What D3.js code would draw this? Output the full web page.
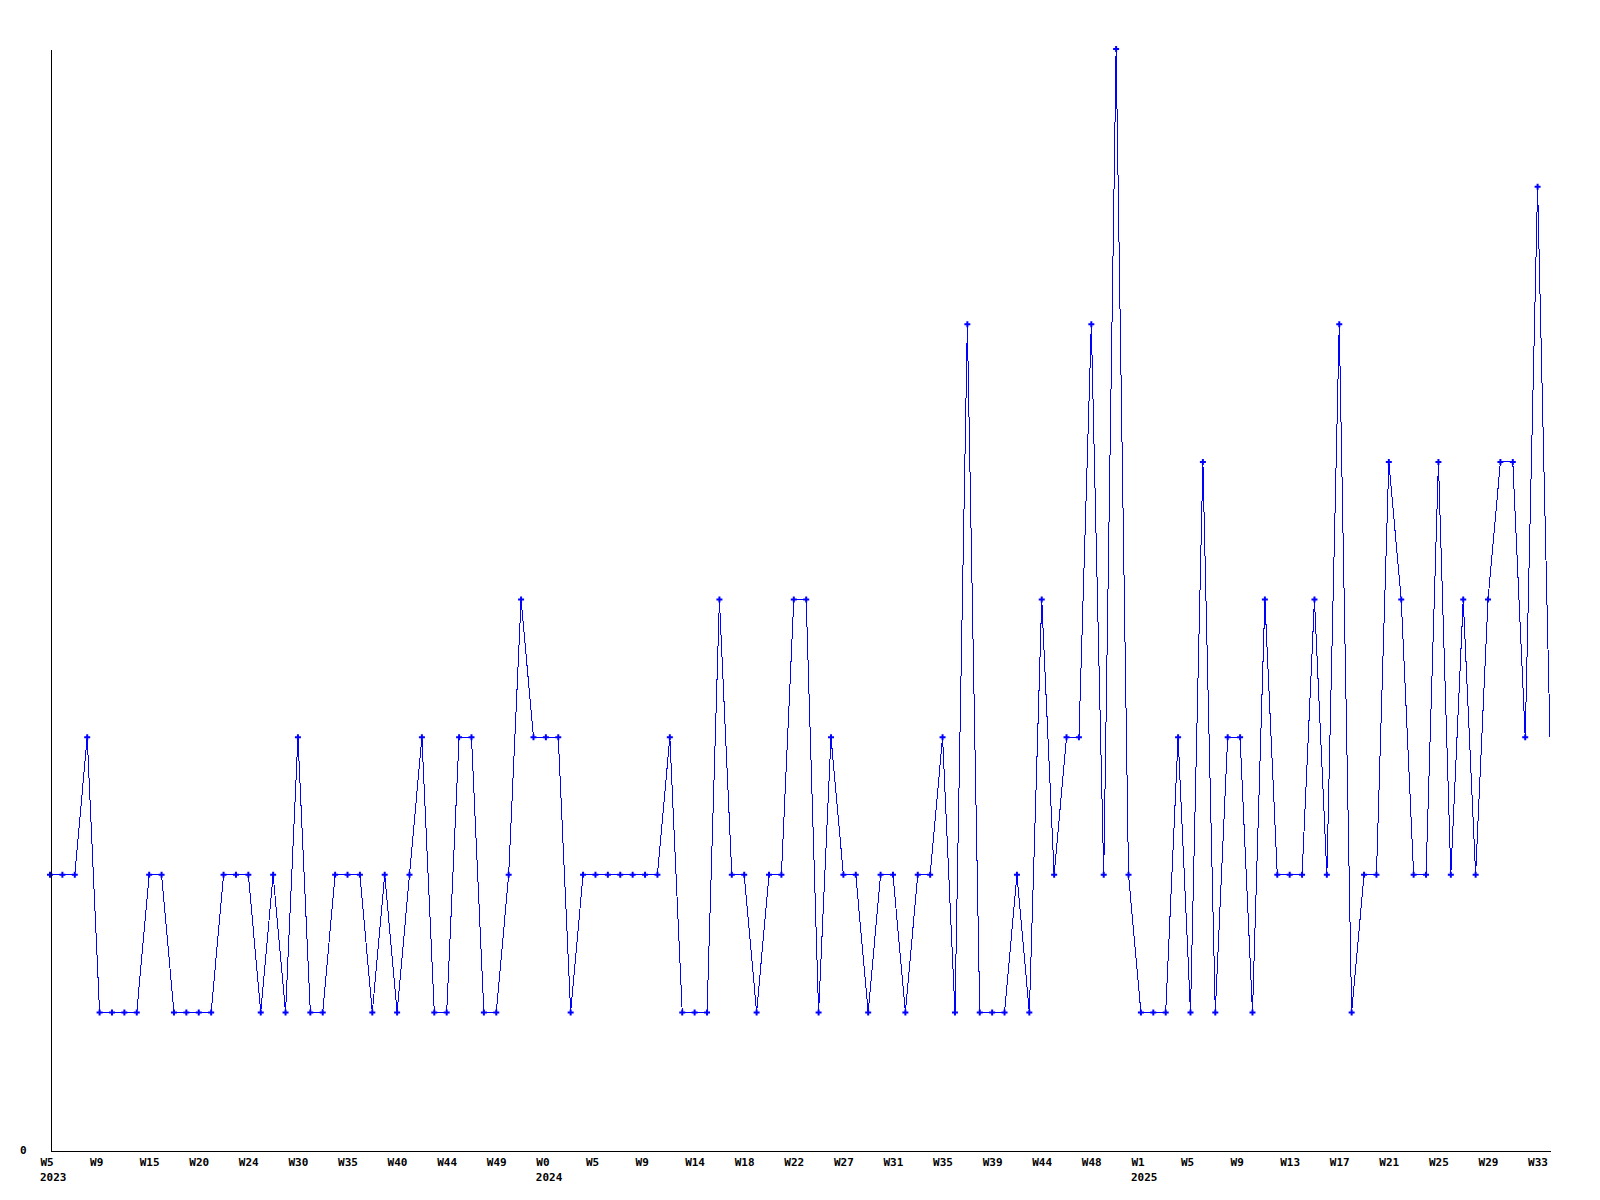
<!DOCTYPE html>
<html>
<head>
<meta charset="utf-8">
<script src="https://cdn.jsdelivr.net/npm/d3@7"></script>
<style>
  html, body { margin: 0; padding: 0; background: #fff; }
  svg { display: block; }
  .lbl { font-family: "DejaVu Sans Mono", monospace; font-weight: bold; font-size: 11px; fill: #000; }
</style>
</head>
<body>
<svg id="chart" width="1600" height="1200"></svg>
<script>
// Weekly values (one per point)
const values = [
  2,2,2,3,1,1,1,1,2,2,
  1,1,1,1,2,2,2,1,2,1,
  3,1,1,2,2,2,1,2,1,2,
  3,1,1,3,3,1,1,2,4,3,
  3,3,1,2,2,2,2,2,2,2,
  3,1,1,1,4,2,2,1,2,2,
  4,4,1,3,2,2,1,2,2,1,
  2,2,3,1,6,1,1,1,2,1,
  4,2,3,3,6,2,8,2,1,1,
  1,3,1,5,1,3,3,1,4,2,
  2,2,4,2,6,1,2,2,5,4,
  2,2,5,2,4,2,4,5,5,3,
  7,3
];
// Tick labels, one every 4 points
const weekLabels = [
  "W5","W9","W15","W20","W24","W30","W35","W40","W44","W49",
  "W0","W5","W9","W14","W18","W22","W27","W31","W35","W39","W44","W48",
  "W1","W5","W9","W13","W17","W21","W25","W29","W33"
];
const yearLabels = ["2023","2024","2025"];
const yearTickPos = [0, 10, 22];   // which week label carries the year
const tickStep = 4;
const yTicks = [0];

(function () {
const svg = d3.select("#chart");
const mLeft = 50, mRight = 1550, mTop = 49, mBottom = 1150;

const x = d3.scaleLinear().domain([0, values.length - 1]).range([mLeft, mRight]);
const y = d3.scaleLinear().domain([0, d3.max(values)]).range([mBottom, mTop]);

// line
const line = d3.line().x((d, i) => x(i)).y(d => y(d));
svg.append("path")
  .datum(values)
  .attr("d", line)
  .attr("fill", "none")
  .attr("stroke", "#0000ff")
  .attr("stroke-width", 1)
  .attr("shape-rendering", "crispEdges");

// markers (last point has none)
const sym = d3.symbol().type(d3.symbolCross).size(20);
svg.append("g").selectAll("path")
  .data(values.slice(0, values.length - 1))
  .join("path")
  .attr("d", sym)
  .attr("transform", (d, i) => `translate(${x(i)},${y(d)})`)
  .attr("fill", "#0000ff");

// left axis
const yAxis = d3.axisLeft(y).tickValues(yTicks).tickSize(0).tickSizeOuter(0).tickPadding(24).tickFormat(d3.format("d"));
const gy = svg.append("g").attr("transform", `translate(${mLeft + 0.5},0)`).call(yAxis);
gy.select(".domain").attr("stroke", "#000").attr("stroke-width", 1).attr("shape-rendering", "crispEdges");
gy.selectAll("text").attr("class", "lbl").attr("font-size", null).attr("font-family", null).attr("dy", "0.35em");

// bottom axis
const tickIdx = weekLabels.map((_, k) => k * tickStep);
const xAxis = d3.axisBottom(x).tickValues(tickIdx).tickSize(0).tickSizeOuter(0).tickPadding(8)
  .tickFormat((d, i) => weekLabels[i]);
const gx = svg.append("g").attr("transform", `translate(0,${mBottom + 0.5})`).call(xAxis);
gx.select(".domain").attr("stroke", "#000").attr("stroke-width", 1).attr("shape-rendering", "crispEdges");
gx.selectAll("text").attr("class", "lbl").attr("font-size", null).attr("font-family", null)
  .attr("text-anchor", "start").attr("dx", -10).attr("dy", null).attr("y", 15.5);

// year labels
svg.append("g").selectAll("text")
  .data(yearLabels)
  .join("text")
  .attr("class", "lbl")
  .attr("x", (d, i) => x(tickIdx[yearTickPos[i]]) - 10)
  .attr("y", 1181)
  .text(d => d);
})();
</script>
</body>
</html>
